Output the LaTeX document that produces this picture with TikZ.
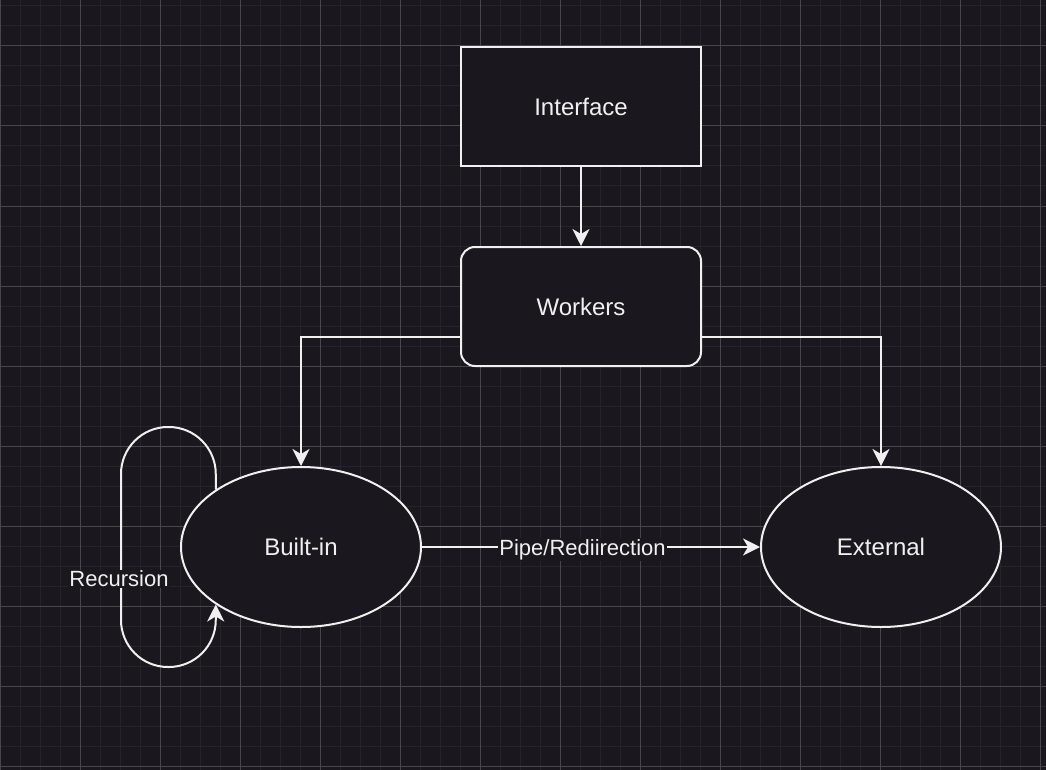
\documentclass[tikz,border=0pt]{standalone}
\usepackage{fontspec}
\setmainfont{Liberation Sans}
\usetikzlibrary{shapes.geometric,arrows.meta}
\definecolor{bg}{RGB}{26,24,30}
\definecolor{gridminor}{RGB}{38,36,42}
\definecolor{gridmajor}{RGB}{72,71,76}
\definecolor{fg}{RGB}{240,240,240}
\begin{document}
\begin{tikzpicture}[x=1pt,y=-1pt,
  box/.style={draw=fg, fill=bg, line width=2pt, text=fg, inner sep=0pt,
    minimum width=240pt, minimum height=119pt, font=\fontsize{24}{28}\selectfont},
  rbox/.style={box, rounded corners=14pt},
  ell/.style={draw=fg, fill=bg, line width=2pt, text=fg, ellipse, inner sep=0pt,
    minimum width=240pt, minimum height=160pt, font=\fontsize{24}{28}\selectfont},
  arr/.style={draw=fg, line width=2pt, -{Stealth[length=17pt,width=17pt,inset=5pt]}},
  lbl/.style={fill=bg, text=fg, inner sep=1pt, font=\fontsize{22}{26}\selectfont}
]
\useasboundingbox (0,0) rectangle (1046,770);
\fill[bg] (0,0) rectangle (1046,770);
% minor grid
\foreach \x in {0,20,...,1040} \draw[gridminor, line width=1pt] (\x,0) -- (\x,770);
\foreach \y in {6,26,...,766} \draw[gridminor, line width=1pt] (0,\y) -- (1046,\y);
% major grid
\foreach \x in {0,80,...,1040} \draw[gridmajor, line width=1pt] (\x,0) -- (\x,770);
\foreach \y in {46,126,...,766} \draw[gridmajor, line width=1pt] (0,\y) -- (1046,\y);

\node[box] (iface) at (581,106.5) {Interface};
\node[rbox] (workers) at (581,306.5) {Workers};
\node[ell] (builtin) at (301,547) {Built-in};
\node[ell] (external) at (881,547) {External};

\draw[arr] (iface) -- (workers);
\draw[arr] ([yshift=-30.5pt]workers.west) -| (builtin.north);
\draw[arr] ([yshift=-30.5pt]workers.east) -| (external.north);
\draw[arr] (builtin) -- node[lbl, pos=0.475, yshift=-2.5pt] (pipe) {Pipe/Rediirection} (external);

\coordinate (lt) at (121,427);
\coordinate (lb) at (121,667);
\draw[arr, rounded corners=47pt] (builtin.146) |- (lt) -- (lb) -| (builtin.214);
\node[lbl] (rec) at (119,579) {Recursion};
\end{tikzpicture}
\end{document}
